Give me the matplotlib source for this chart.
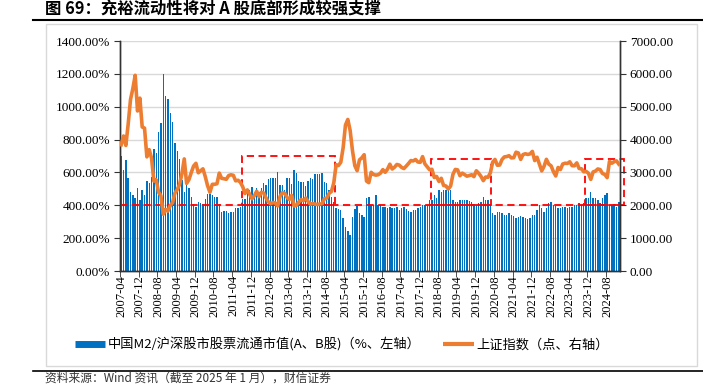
import matplotlib
matplotlib.use("Agg")
import matplotlib.pyplot as plt
import pandas as pd
from matplotlib.patches import Rectangle
from matplotlib.lines import Line2D
from matplotlib.ticker import FormatStrFormatter, MultipleLocator

plt.rcParams['font.family'] = ['Liberation Serif', 'Noto Sans CJK SC']

START, END = '2007-04', '2025-01'
months = pd.period_range(START, END, freq='M').strftime('%Y-%m').tolist()

# M2 / A+B share float market cap (%), left axis
ratio = [
    700, 615, 676, 564, 483, 463, 442, 503, 432, 493,
    463, 550, 534, 570, 740, 720, 844, 903, 1199, 1065,
    1049, 960, 909, 777, 732, 682, 554, 483, 534, 503,
    448, 408, 392, 422, 416, 408, 436, 467, 469, 465,
    452, 452, 408, 361, 367, 367, 351, 357, 361, 381,
    381, 387, 438, 438, 473, 493, 513, 483, 503, 483,
    503, 534, 523, 558, 564, 564, 564, 601, 523, 521,
    493, 564, 564, 528, 615, 595, 550, 542, 542, 519,
    550, 564, 561, 589, 589, 589, 595, 542, 533, 493,
    452, 422, 381, 375, 372, 321, 270, 245, 219, 331,
    377, 398, 355, 341, 331, 442, 452, 402, 404, 463,
    402, 402, 392, 392, 381, 392, 385, 385, 392, 371,
    381, 392, 377, 365, 361, 371, 371, 381, 392, 402,
    402, 402, 432, 432, 463, 442, 493, 483, 493, 493,
    493, 493, 432, 422, 422, 432, 432, 432, 432, 428,
    422, 406, 402, 416, 422, 452, 432, 432, 402, 351,
    341, 361, 361, 351, 341, 341, 351, 341, 337, 325,
    331, 337, 327, 321, 315, 321, 341, 341, 371, 402,
    381, 361, 381, 412, 422, 402, 398, 381, 381, 392,
    388, 381, 392, 392, 402, 402, 412, 402, 412, 442,
    442, 483, 442, 442, 432, 412, 442, 463, 473, 402,
    402, 402, 392, 422,
]

# Shanghai Composite monthly close, right axis
sse = [
    3841, 4109, 3820, 4471, 5218, 5552, 5955, 4871, 5262,
    4383, 4348, 3473, 3693, 3433, 2736, 2776, 2397, 2293, 1729, 1871, 1821,
    1991, 2082, 2373, 2477, 2633, 2959, 3412, 2667, 2779, 2996, 3195, 3277,
    2989, 3051, 3110, 2871, 2592, 2398, 2638, 2639, 2656, 2979, 2820, 2808,
    2791, 2905, 2928, 2911, 2743, 2762, 2701, 2568, 2359, 2468, 2333, 2199,
    2292, 2428, 2263, 2397, 2373, 2225, 2103, 2047, 2086, 2069, 1980, 2269,
    2385, 2366, 2237, 2178, 2301, 1979, 1994, 2098, 2175, 2141, 2220, 2116,
    2033, 2056, 2033, 2026, 2039, 2048, 2202, 2217, 2364, 2420, 2683, 3235,
    3210, 3310, 3748, 4442, 4612, 4277, 3664, 3206, 3053, 3383, 3445, 3539,
    2738, 2688, 3004, 2938, 2917, 2930, 2979, 3085, 3005, 3100, 3250, 3104,
    3159, 3242, 3223, 3155, 3117, 3192, 3273, 3361, 3349, 3393, 3317, 3307,
    3481, 3259, 3169, 3082, 3095, 2847, 2876, 2725, 2821, 2603, 2588, 2494,
    2585, 2941, 3091, 3078, 2899, 2979, 2933, 2886, 2905, 2929, 2872, 3050,
    2977, 2880, 2750, 2860, 2852, 2985, 3310, 3396, 3218, 3225, 3392, 3473,
    3483, 3509, 3442, 3447, 3615, 3591, 3397, 3544, 3568, 3547, 3564, 3640,
    3361, 3462, 3252, 3047, 3186, 3399, 3253, 3202, 3024, 2893, 3151, 3089,
    3256, 3280, 3273, 3323, 3205, 3202, 3291, 3120, 3110, 3019, 3030, 2975,
    2789, 3015, 3041, 3105, 3087, 2967, 2939, 2842, 3336, 3280, 3326, 3352,
    3251,
]

# highlighted bottom zones: (first month, last month, top on left axis %)
box_start = ['2011-08', '2018-05', '2023-11']
box_end = ['2014-11', '2020-06', '2025-03']
box_top = [700, 680, 680]
floor_pct = 400

title = '图 69：充裕流动性将对 A 股底部形成较强支撑'
bar_label = '中国M2/沪深股市股票流通市值(A、B股)（%、左轴）'
line_label = '上证指数（点、右轴）'
source = '资料来源：Wind 资讯（截至 2025 年 1 月），财信证券'

W, H = 703, 385
fig = plt.figure(figsize=(W / 100, H / 100), dpi=100)
ax = fig.add_axes([120 / W, 1 - 271 / H, 500 / W, 230 / H])
ax2 = ax.twinx()

x = list(range(len(months)))
ax.bar(x, ratio, width=0.6, color='#0070C0', zorder=2)
ax.set_xlim(-0.5, len(months) - 0.5)
ax.set_ylim(0, 1400)
ax.yaxis.set_major_locator(MultipleLocator(200))
ax.yaxis.set_major_formatter(FormatStrFormatter('%.2f%%'))
ax.grid(axis='y', color='#D9D9D9', lw=1, zorder=0)
ax.set_axisbelow(True)

# red dashed floor and boxes
ax.axhline(floor_pct, color='#FF0000', ls=(0, (4, 2.5)), lw=1.3, zorder=3)
for s, e, top in zip(box_start, box_end, box_top):
    i0 = pd.Period(s, 'M').ordinal - pd.Period(START, 'M').ordinal - 0.4
    i1 = pd.Period(e, 'M').ordinal - pd.Period(START, 'M').ordinal + 0.4
    ax.add_patch(Rectangle((i0, floor_pct), i1 - i0, top - floor_pct, fill=False,
                           ec='#FF0000', ls=(0, (4, 2.5)), lw=1.3, zorder=3, clip_on=False))

ax2.plot(x, sse, color='#ED7D31', lw=2.6, solid_joinstyle='round', zorder=4)
ax2.set_ylim(0, 7000)
ax2.yaxis.set_major_locator(MultipleLocator(1000))
ax2.yaxis.set_major_formatter(FormatStrFormatter('%.2f'))

# category axis: labels every 8 months, ticks between categories
lab_pos = list(range(0, len(months), 8))
ax.set_xticks(lab_pos)
ax.set_xticklabels([months[i] for i in lab_pos], rotation=90, fontsize=9)
ax.tick_params(axis='x', length=0, pad=3)
ax.set_xticks([i - 0.5 for i in lab_pos], minor=True)
ax.tick_params(axis='x', which='minor', length=4, direction='out', color='#333333')

ax.tick_params(axis='y', labelsize=9.5, length=4, color='#333333', pad=3)
ax2.tick_params(axis='y', labelsize=9.5, length=4, color='#333333', pad=3)
for a in (ax, ax2):
    a.spines['top'].set_visible(False)
    for sp in ('left', 'right', 'bottom'):
        a.spines[sp].set_color('#333333')
        a.spines[sp].set_linewidth(1)

handles = [Line2D([], [], color='#0070C0', lw=5, solid_capstyle='butt'),
           Line2D([], [], color='#ED7D31', lw=3, solid_capstyle='butt')]
fig.legend(handles, [bar_label, line_label], loc='center', ncol=2, frameon=False,
           bbox_to_anchor=(342 / W, 1 - 345 / H), handlelength=2.3, handletextpad=0.2,
           columnspacing=1.7, prop={'family': ['Noto Sans CJK SC'], 'size': 9.5})

# chart frame, title, rules and source
fig.add_artist(Rectangle((46 / W, 1 - 366 / H), 651 / W, 342 / H, transform=fig.transFigure,
                         fill=False, ec='#D9D9D9', lw=1))
fig.add_artist(Line2D([33 / W, 1], [1 - 19.5 / H] * 2, transform=fig.transFigure,
                      color='black', lw=1.5))
fig.add_artist(Line2D([33 / W, 1], [1 - 371 / H] * 2, transform=fig.transFigure,
                      color='black', lw=1.2))
fig.text(45 / W, 1 - 9 / H, title, fontsize=11.8, fontweight='bold', va='center',
         family=['Noto Sans CJK SC'])
fig.text(45 / W, 1 - 378.5 / H, source, fontsize=8.5, va='center', color='#333333',
         family=['Noto Sans CJK SC'])

fig.savefig('out.png', dpi=100)
